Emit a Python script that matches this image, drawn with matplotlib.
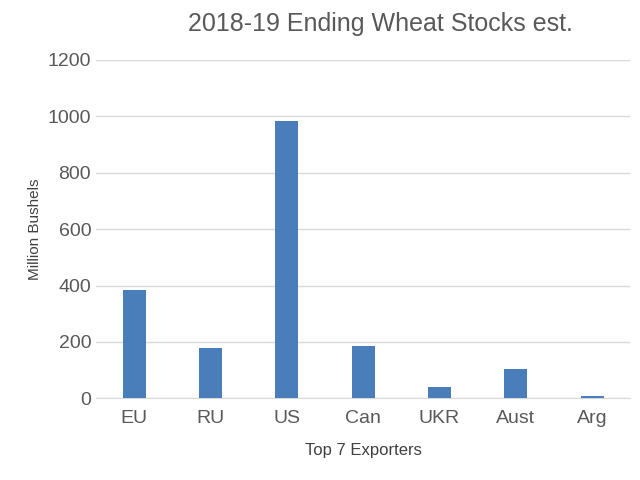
import matplotlib.pyplot as plt

countries = ['EU', 'RU', 'US', 'Can', 'UKR', 'Aust', 'Arg']
stocks = [383, 177, 983, 185, 39, 106, 9]

plt.rcParams['font.family'] = 'Liberation Sans'
fig = plt.figure(figsize=(6.4, 4.8), dpi=100)
ax = fig.add_axes([0.15, 0.17, 0.835, 0.705])
ax.bar(range(len(countries)), stocks, width=0.3, color='#4a7ebb', zorder=3)
ax.set_ylim(0, 1200)
ax.set_xlim(-0.5, len(countries) - 0.5)
ax.set_yticks(range(0, 1201, 200))
ax.set_xticks(range(len(countries)))
ax.set_xticklabels(countries)
ax.tick_params(colors='#595959', labelsize=14, length=0)
ax.tick_params(axis='x', pad=8)
ax.grid(axis='y', color='#d9d9d9', linewidth=1, zorder=0)
for s in ['top', 'right', 'left']:
    ax.spines[s].set_visible(False)
ax.spines['bottom'].set_color('#d9d9d9')
ax.set_ylabel('Million Bushels', fontsize=11, color='#404040')
ax.set_xlabel('Top 7 Exporters', fontsize=12, color='#404040', labelpad=12)
fig.text(0.595, 0.935, '2018-19 Ending Wheat Stocks est.', ha='center', fontsize=18, color='#595959')
fig.savefig('out.png')
